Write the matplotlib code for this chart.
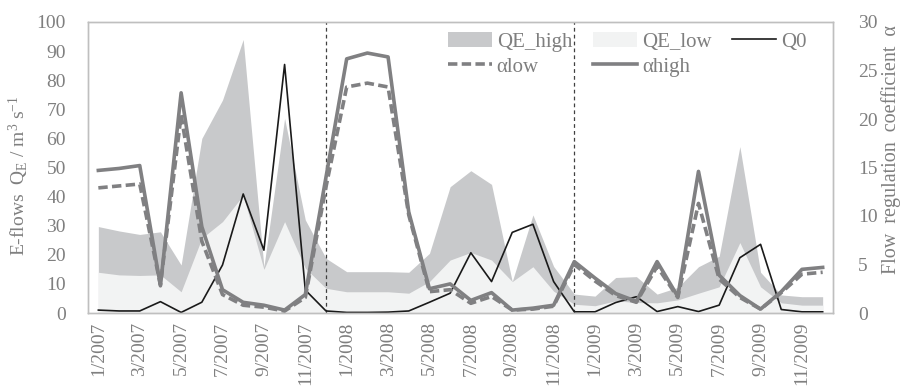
import matplotlib
matplotlib.use("Agg")
import matplotlib.pyplot as plt
import numpy as np

plt.rcParams["font.family"] = ["Liberation Serif", "DejaVu Serif"]
plt.rcParams["mathtext.fontset"] = "custom"
plt.rcParams["mathtext.rm"] = "Liberation Serif"
plt.rcParams["mathtext.it"] = "Liberation Serif"

# Monthly series, January 2007 - December 2009
months = [f"{m}/{y}" for y in (2007, 2008, 2009) for m in range(1, 13)]

qe_high = [29.7, 28.2, 27.0, 27.9, 16.5, 60.0, 73.2, 94.0, 15.9, 66.9, 32.0, 18.8,
           14.2, 14.2, 14.2, 14.0, 20.5, 43.4, 48.9, 44.2, 10.8, 33.7, 16.0, 6.5,
           5.8, 12.2, 12.5, 6.5, 8.8, 15.9, 19.5, 57.2, 14.0, 6.2, 5.6, 5.6]
qe_low = [14.0, 13.1, 12.9, 13.1, 7.3, 25.7, 31.4, 40.5, 15.0, 31.4, 15.4, 8.5,
          7.3, 7.3, 7.3, 6.8, 10.8, 18.2, 20.8, 18.2, 10.8, 15.9, 7.5, 3.0,
          2.5, 4.2, 3.6, 3.5, 4.5, 6.8, 9.0, 24.2, 9.0, 3.5, 2.7, 2.7]
q0 = [1.0, 0.7, 0.7, 3.9, 0.2, 3.7, 16.5, 40.9, 21.6, 85.4, 7.9, 0.7,
      0.2, 0.2, 0.3, 0.7, 3.7, 6.8, 20.7, 10.8, 27.7, 30.5, 10.8, 0.4,
      0.4, 3.6, 5.6, 0.5, 2.2, 0.5, 2.7, 19.0, 23.6, 1.2, 0.4, 0.4]
alpha_high = [14.7, 14.9, 15.2, 2.8, 22.7, 8.9, 2.4, 1.1, 0.8, 0.3, 1.9, 14.0,
              26.2, 26.8, 26.4, 10.4, 2.5, 3.0, 1.3, 2.1, 0.3, 0.5, 0.8, 5.3,
              3.6, 2.0, 1.2, 5.3, 1.7, 14.6, 3.9, 1.8, 0.4, 2.2, 4.5, 4.7]
alpha_low = [12.9, 13.1, 13.3, 2.9, 20.4, 7.4, 1.9, 0.8, 0.6, 0.2, 1.6, 13.0,
             23.3, 23.7, 23.3, 10.1, 2.2, 2.4, 1.0, 1.7, 0.3, 0.4, 0.7, 5.0,
             3.3, 1.8, 1.1, 4.8, 1.6, 11.3, 3.5, 1.6, 0.4, 2.1, 4.0, 4.2]

# Year boundaries marked with dashed lines
year_marks = ["12/2007", "12/2008"]

TXT = "#7f7f7f"
A_COL = "#808082"

x = np.arange(len(months))

fig = plt.figure(figsize=(9.04, 3.90), dpi=100)
ax = fig.add_axes([88 / 904, 1 - 313 / 390, (833 - 88) / 904, (313 - 22) / 390])
ax2 = ax.twinx()

h_high = ax.fill_between(x, 0, qe_high, color="#c8c9cb", lw=0, label="QE_high")
h_low = ax.fill_between(x, 0, qe_low, color="#f2f3f3", lw=0, label="QE_low")
h_q0, = ax.plot(x, q0, color="#1a1a1a", lw=1.2, label="Q0")

for m in year_marks:
    ax.axvline(months.index(m), color="#404040", lw=0.9, ls=(0, (3, 2.5)), zorder=1.5)

h_al, = ax2.plot(x, alpha_low, color=A_COL, lw=2.6, ls=(0, (2.6, 1.2)), label="αlow")
h_ah, = ax2.plot(x, alpha_high, color=A_COL, lw=2.6, label="αhigh")

ax.set_xlim(-0.5, len(months) - 0.5)
ax.set_ylim(0, 100)
ax2.set_ylim(0, 30)
ax.set_yticks(np.arange(0, 101, 10))
ax2.set_yticks(np.arange(0, 31, 5))
ax.set_xticks(x[::2])
ax.set_xticklabels(months[::2], rotation=90)

for a in (ax, ax2):
    a.tick_params(axis="both", length=0, labelsize=14, labelcolor=TXT)
    for s in a.spines.values():
        s.set_color("#bfbfbf")
        s.set_linewidth(1.0)
ax.tick_params(axis="y", pad=16)
ax2.tick_params(axis="y", pad=18)
ax.tick_params(axis="x", pad=6)

ax.set_ylabel("E-flows  Q$_{\\rm E}$ / m$^{3}$ s$^{-1}$", fontsize=14, color=TXT)
ax.yaxis.set_label_coords(-0.076, 0.471)
ax2.set_ylabel("Flow  regulation  coefficient  α", fontsize=14.5, color=TXT, rotation=90)
ax2.yaxis.set_label_coords(1.064, 0.56)

leg = ax2.legend([h_high, h_al, h_low, h_ah, h_q0],
                 ["QE_high", "αlow", "QE_low", "αhigh", "Q0"],
                 ncol=3, loc="upper right", bbox_to_anchor=(0.965, 0.965),
                 frameon=False, fontsize=15, handlelength=2.1, handletextpad=0.25,
                 columnspacing=1.0, labelspacing=0.25, borderpad=0, borderaxespad=0)
for t in leg.get_texts():
    t.set_color(TXT)

fig.savefig("out.png", dpi=100)
